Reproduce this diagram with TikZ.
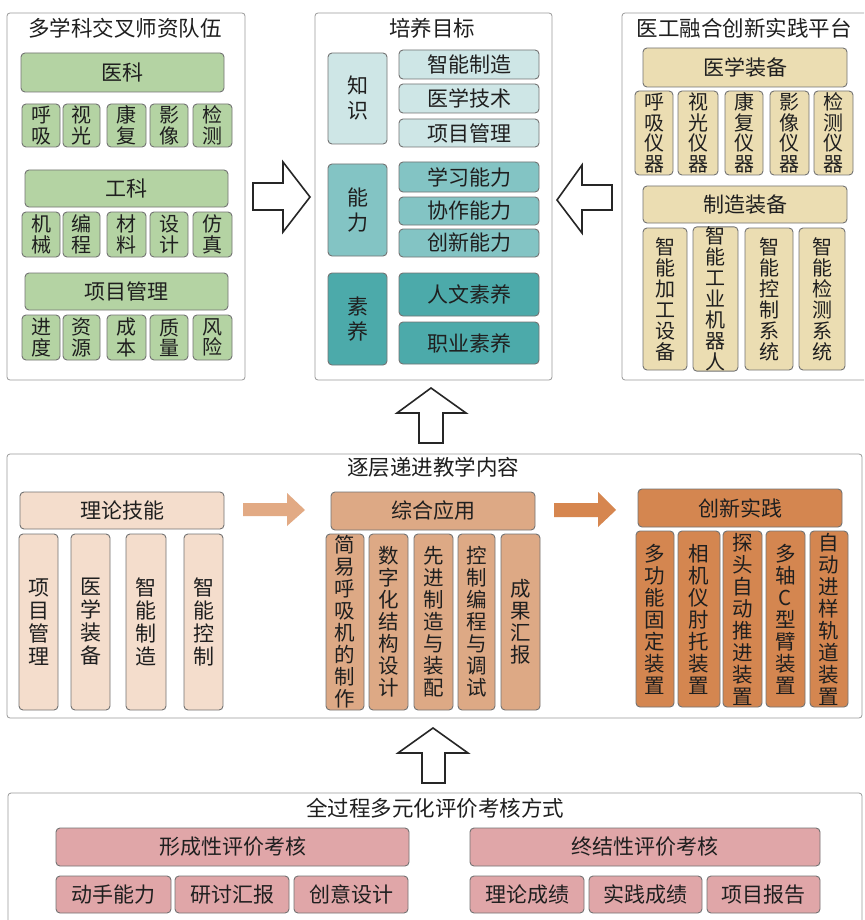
\documentclass[tikz,border=0pt]{standalone}
\usepackage{fontspec}
\setmainfont{Noto Sans CJK SC}
\definecolor{cGreen}{HTML}{B4D3A3}
\definecolor{cTeal1}{HTML}{CEE6E6}
\definecolor{cTeal2}{HTML}{83C4C4}
\definecolor{cTeal3}{HTML}{4CAAAA}
\definecolor{cTan}{HTML}{EBDDB2}
\definecolor{cPeach}{HTML}{F4DDCC}
\definecolor{cMid}{HTML}{DDA985}
\definecolor{cOrange}{HTML}{D48650}
\definecolor{cPink}{HTML}{E0A6A8}
\definecolor{cArrL}{HTML}{E2AA84}
\definecolor{cArrD}{HTML}{D6864F}
\newcommand{\bx}[7]{\node[#2, minimum width={#5pt-#3pt}, minimum height={#6pt-#4pt}] (#1) at ({(#3+#5)/2},{(#4+#6)/2}) {#7};}
\tikzset{
  panel/.style={draw=black!40, line width=0.8pt, rounded corners=3pt, fill=white, inner sep=0pt},
  bxbase/.style={draw=black!55, line width=0.9pt, rounded corners=4pt, inner sep=0pt, align=center, text=black!88, font=\fontsize{21}{23}\selectfont},
  gbox/.style={bxbase, fill=cGreen},
  gsmall/.style={bxbase, fill=cGreen, font=\fontsize{20}{20.5}\selectfont},
  tbox1/.style={bxbase, fill=cTeal1},
  tbox2/.style={bxbase, fill=cTeal2},
  tbox3/.style={bxbase, fill=cTeal3},
  tvert/.style={font=\fontsize{21}{25}\selectfont},
  tanbox/.style={bxbase, fill=cTan},
  tansmall/.style={bxbase, fill=cTan, font=\fontsize{20}{20.5}\selectfont},
  tantall/.style={bxbase, fill=cTan, font=\fontsize{20}{21}\selectfont},
  pbox/.style={bxbase, fill=cPeach},
  pvert/.style={bxbase, fill=cPeach, font=\fontsize{21}{23}\selectfont},
  mbox/.style={bxbase, fill=cMid},
  mvert/.style={bxbase, fill=cMid, font=\fontsize{20.5}{22}\selectfont},
  obox/.style={bxbase, fill=cOrange},
  overt/.style={bxbase, fill=cOrange, font=\fontsize{20.5}{22}\selectfont},
  pkbox/.style={bxbase, fill=cPink},
  ttl/.style={inner sep=0pt, text=black!88, font=\fontsize{21.5}{23}\selectfont},
  blockarrow/.style={draw=black!85, line width=1.6pt, fill=white, line join=miter},
}
\begin{document}
\begin{tikzpicture}[x=1pt,y=-1pt]
\useasboundingbox (0,0) rectangle (864,920);
\clip (0,0) rectangle (864,920);
\fill[white] (0,0) rectangle (864,920);

% ---------- top left panel
\bx{P1}{panel}{7}{13}{245}{380}{}
\node[ttl] (t1) at (125,28) {多学科交叉师资队伍};
\bx{yk}{gbox}{21}{53}{224}{92}{医科}
\bx{a1}{gsmall}{22}{104}{60}{147}{呼\\吸}
\bx{a2}{gsmall}{63}{104}{100}{147}{视\\光}
\bx{a3}{gsmall}{107}{104}{146}{147}{康\\复}
\bx{a4}{gsmall}{150}{104}{188}{147}{影\\像}
\bx{a5}{gsmall}{193}{104}{232}{147}{检\\测}
\bx{gk}{gbox}{25}{170}{228}{207}{工科}
\bx{b1}{gsmall}{22}{212}{60}{257}{机\\械}
\bx{b2}{gsmall}{63}{212}{100}{257}{编\\程}
\bx{b3}{gsmall}{107}{212}{146}{257}{材\\料}
\bx{b4}{gsmall}{150}{212}{188}{257}{设\\计}
\bx{b5}{gsmall}{193}{212}{232}{257}{仿\\真}
\bx{xm}{gbox}{25}{273}{228}{310}{项目管理}
\bx{c1}{gsmall}{22}{315}{60}{360}{进\\度}
\bx{c2}{gsmall}{63}{315}{100}{360}{资\\源}
\bx{c3}{gsmall}{107}{315}{146}{360}{成\\本}
\bx{c4}{gsmall}{150}{315}{188}{360}{质\\量}
\bx{c5}{gsmall}{193}{315}{232}{360}{风\\险}

% ---------- top middle panel
\bx{P2}{panel}{315}{13}{552}{380}{}
\node[ttl] (t2) at (432,28) {培养目标};
\bx{zs}{tbox1,tvert}{328}{53}{387}{144}{知\\识}
\bx{z1}{tbox1}{399}{50}{539}{79}{智能制造}
\bx{z2}{tbox1}{399}{84}{539}{113}{医学技术}
\bx{z3}{tbox1}{399}{119}{539}{147}{项目管理}
\bx{nl}{tbox2,tvert}{328}{164}{387}{256}{能\\力}
\bx{n1}{tbox2}{399}{162}{539}{192}{学习能力}
\bx{n2}{tbox2}{399}{197}{539}{225}{协作能力}
\bx{n3}{tbox2}{399}{229}{539}{257}{创新能力}
\bx{sy}{tbox3,tvert}{328}{273}{387}{365}{素\\养}
\bx{s1}{tbox3}{399}{273}{539}{316}{人文素养}
\bx{s2}{tbox3}{399}{322}{539}{364}{职业素养}

% ---------- top right panel
\bx{P3}{panel}{622}{13}{872}{380}{}
\node[ttl] (t3) at (744,28) {医工融合创新实践平台};
\bx{yx}{tanbox}{643}{48}{847}{87}{医学装备}
\bx{d1}{tansmall}{635}{91}{673}{175}{呼\\吸\\仪\\器}
\bx{d2}{tansmall}{678}{91}{718}{175}{视\\光\\仪\\器}
\bx{d3}{tansmall}{725}{91}{763}{175}{康\\复\\仪\\器}
\bx{d4}{tansmall}{770}{91}{809}{175}{影\\像\\仪\\器}
\bx{d5}{tansmall}{814}{91}{853}{175}{检\\测\\仪\\器}
\bx{zz}{tanbox}{643}{186}{847}{223}{制造装备}
\bx{e1}{tantall}{643}{228}{687}{370}{智\\能\\加\\工\\设\\备}
\bx{e2}{tantall}{693}{228}{738}{370}{智\\能\\工\\业\\机\\器\\人}
\bx{e3}{tantall}{745}{228}{793}{370}{智\\能\\控\\制\\系\\统}
\bx{e4}{tantall}{799}{228}{845}{370}{智\\能\\检\\测\\系\\统}

% ---------- outline arrows
\draw[blockarrow] (253,183) -- (283,183) -- (283,162) -- (310,197) -- (283,232) -- (283,210) -- (253,210) -- cycle;
\draw[blockarrow] (612,185) -- (582,185) -- (582,165) -- (557,200) -- (582,233) -- (582,210) -- (612,210) -- cycle;
\draw[blockarrow] (419,443) -- (419,413) -- (397,413) -- (431,388) -- (466,413) -- (443,413) -- (443,443) -- cycle;
\draw[blockarrow] (422,783) -- (422,753) -- (398,753) -- (433,728) -- (468,753) -- (445,753) -- (445,783) -- cycle;

% ---------- middle panel
\bx{P4}{panel}{7}{454}{862}{718}{}
\node[ttl] (t4) at (433,467) {逐层递进教学内容};
\bx{ll}{pbox}{20}{492}{224}{529}{理论技能}
\bx{f1}{pvert}{19}{534}{58}{710}{项\\目\\管\\理}
\bx{f2}{pvert}{71}{534}{110}{710}{医\\学\\装\\备}
\bx{f3}{pvert}{126}{534}{166}{710}{智\\能\\制\\造}
\bx{f4}{pvert}{184}{534}{223}{710}{智\\能\\控\\制}
\fill[cArrL] (243,503) -- (287,503) -- (287,493) -- (305,510) -- (287,526) -- (287,516) -- (243,516) -- cycle;
\bx{zh}{mbox}{331}{492}{535}{530}{综合应用}
\bx{g1}{mvert}{326}{534}{364}{710}{简\\易\\呼\\吸\\机\\的\\制\\作}
\bx{g2}{mvert}{369}{534}{408}{710}{数\\字\\化\\结\\构\\设\\计}
\bx{g3}{mvert}{414}{534}{453}{710}{先\\进\\制\\造\\与\\装\\配}
\bx{g4}{mvert}{458}{534}{495}{710}{控\\制\\编\\程\\与\\调\\试}
\bx{g5}{mvert}{501}{534}{540}{710}{成\\果\\汇\\报}
\fill[cArrD] (554,503) -- (598,503) -- (598,492) -- (616,510) -- (598,527) -- (598,517) -- (554,517) -- cycle;
\bx{cx}{obox}{638}{489}{842}{527}{创新实践}
\bx{h1}{overt}{636}{531}{674}{707}{多\\功\\能\\固\\定\\装\\置}
\bx{h2}{overt}{678}{531}{720}{707}{相\\机\\仪\\肘\\托\\装\\置}
\bx{h3}{overt}{723}{531}{762}{707}{探\\头\\自\\动\\推\\进\\装\\置}
\bx{h4}{overt}{766}{531}{805}{707}{多\\轴\\C\\型\\臂\\装\\置}
\bx{h5}{overt}{810}{531}{848}{707}{自\\动\\进\\样\\轨\\道\\装\\置}

% ---------- bottom panel
\bx{P5}{panel}{8}{793}{862}{940}{}
\node[ttl] (t5) at (435,808) {全过程多元化评价考核方式};
\bx{xc}{pkbox}{56}{828}{409}{866}{形成性评价考核}
\bx{zj}{pkbox}{470}{828}{820}{866}{终结性评价考核}
\bx{k1}{pkbox}{56}{876}{171}{913}{动手能力}
\bx{k2}{pkbox}{175}{876}{289}{913}{研讨汇报}
\bx{k3}{pkbox}{294}{876}{408}{913}{创意设计}
\bx{k4}{pkbox}{470}{876}{584}{913}{理论成绩}
\bx{k5}{pkbox}{589}{876}{702}{913}{实践成绩}
\bx{k6}{pkbox}{707}{876}{820}{913}{项目报告}
\end{tikzpicture}
\end{document}
